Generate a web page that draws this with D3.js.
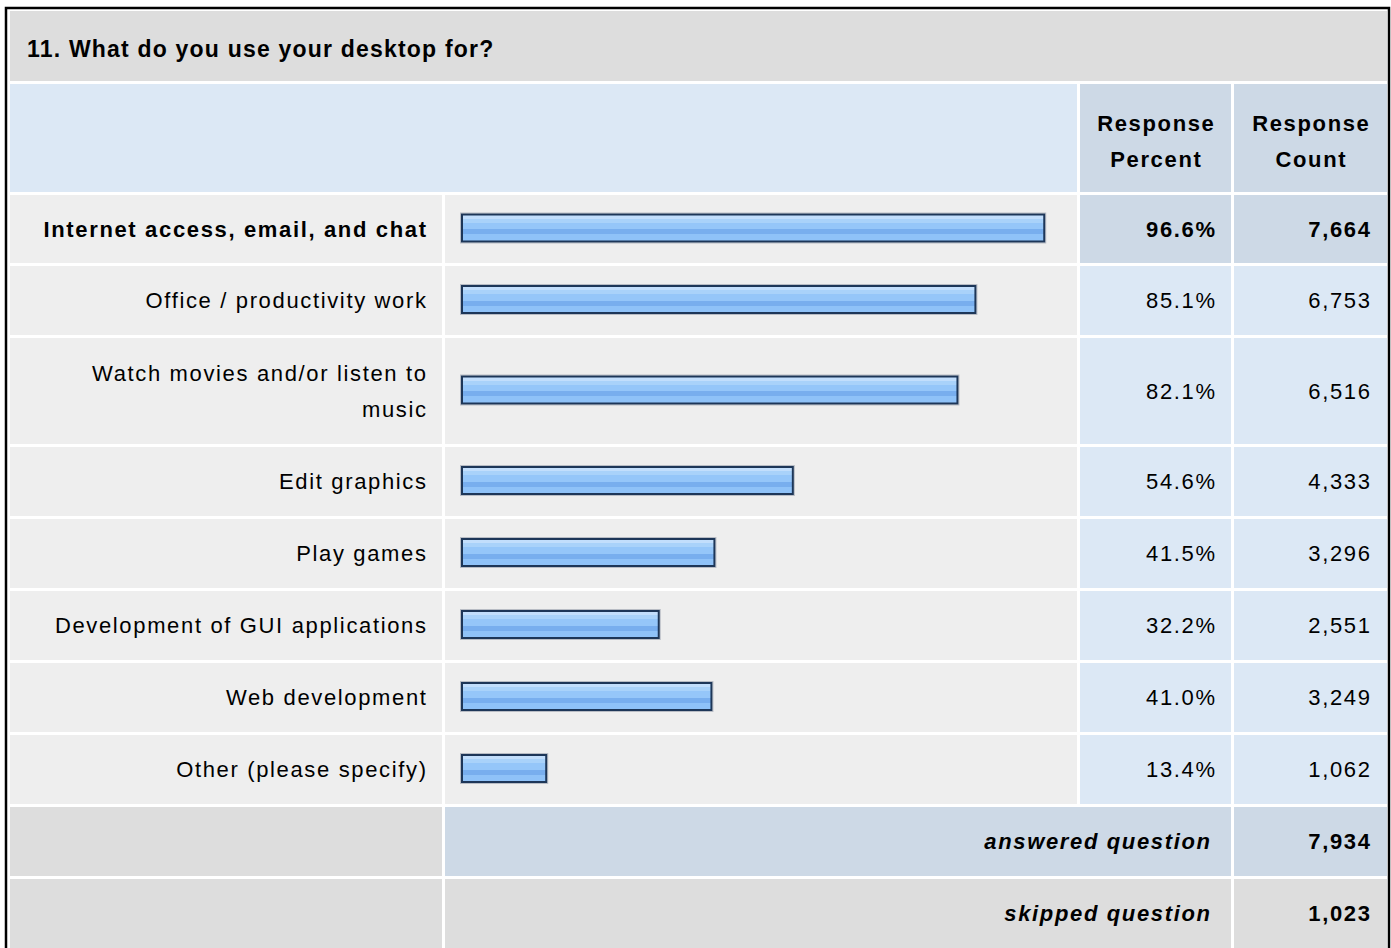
<!DOCTYPE html>
<html>
  <head>
    <meta charset="UTF-8">
    <title></title>
    <style>
    body { margin: 0; background: #fff; }
    svg { display: block; }
    text { font-family: "Liberation Sans", Arial, sans-serif; fill: #000; }
    </style>
  </head>
  <body>
    <svg id="chart" width="1391" height="948"></svg>
  </body>
  <script src="https://cdn.jsdelivr.net/npm/d3@7/dist/d3.min.js"></script>
  <script>
  // data
  var question = "11. What do you use your desktop for?";
  var headers = [["Response", "Percent"], ["Response", "Count"]];
  var categories = [
    ["Internet access, email, and chat"],
    ["Office / productivity work"],
    ["Watch movies and/or listen to", "music"],
    ["Edit graphics"],
    ["Play games"],
    ["Development of GUI applications"],
    ["Web development"],
    ["Other (please specify)"]
  ];
  var percents = [96.6, 85.1, 82.1, 54.6, 41.5, 32.2, 41.0, 13.4];
  var counts = [7664, 6753, 6516, 4333, 3296, 2551, 3249, 1062];
  var summaryLabels = ["answered question", "skipped question"];
  var summaryCounts = [7934, 1023];

  var width = 1391, height = 948;
  var fontSize = 22, lineH = 36, spacing = 1.65;

  // column edges
  var colLabel = [10, 442], colBar = [445, 1077], colPct = [1080, 1231], colCnt = [1234, 1387];
  var fmtCount = d3.format(",");
  var fmtPct = function(v) { return v.toFixed(1) + "%"; };

  var x = d3.scaleLinear().domain([0, 100]).range([6, 604.6]);

  var svg = d3.select("svg#chart");

  var defs = svg.append("defs");
  var grad = defs.append("linearGradient")
    .attr("id", "barGrad")
    .attr("x1", 0).attr("y1", 0).attr("x2", 0).attr("y2", 1);
  [[0, "#c2defc"], [0.16, "#c2defc"], [0.16, "#a9d2fa"], [0.3, "#a9d2fa"], [0.3, "#95c6f9"],
   [0.55, "#95c6f9"], [0.55, "#78aeee"], [0.74, "#78aeee"], [0.74, "#8fc2f8"], [1, "#8fc2f8"]]
    .forEach(function(s) {
      grad.append("stop").attr("offset", s[0]).attr("stop-color", s[1]);
    });

  // outer frame
  svg.append("rect")
    .attr("x", 6).attr("y", 8)
    .attr("width", 1383).attr("height", 960)
    .attr("fill", "#fff")
    .attr("stroke", "#000")
    .attr("stroke-width", 2.5);

  function cell(x0, x1, y0, y1, fill) {
    svg.append("rect")
      .attr("x", x0).attr("y", y0)
      .attr("width", x1 - x0).attr("height", y1 - y0)
      .attr("fill", fill);
  }

  function lines(arr, tx, cy, anchor, weight, style) {
    // letter-spacing leaves a trailing gap, push it back out
    var shift = anchor === "end" ? spacing : anchor === "middle" ? spacing / 2 : 0;
    var t = svg.append("text")
      .attr("text-anchor", anchor)
      .style("font-size", fontSize + "px")
      .style("letter-spacing", spacing + "px")
      .style("font-weight", weight || "normal")
      .style("font-style", style || "normal");
    var first = cy - (arr.length - 1) * lineH / 2 + fontSize * 0.36;
    arr.forEach(function(s, i) {
      t.append("tspan").attr("x", tx + shift).attr("y", first + i * lineH).text(s);
    });
    return t;
  }

  // title row
  cell(10, 1387, 11, 81, "#dddddd");
  svg.append("text")
    .attr("x", 27).attr("y", 57)
    .style("font-size", "23px")
    .style("letter-spacing", "1.2px")
    .style("font-weight", "bold")
    .text(question);

  // header row
  cell(10, 1077, 84, 192, "#dce8f5");
  cell(colPct[0], colPct[1], 84, 192, "#cdd9e6");
  cell(colCnt[0], colCnt[1], 84, 192, "#cdd9e6");
  lines(headers[0], (colPct[0] + colPct[1]) / 2, 141, "middle", "bold");
  lines(headers[1], (colCnt[0] + colCnt[1]) / 2, 141, "middle", "bold");

  // data rows
  var y = 195;
  categories.forEach(function(lab, i) {
    var h = lab.length > 1 ? 106 : (i === 0 ? 68 : 69);
    var y0 = y, y1 = y + h, cy = y + h / 2;
    var strong = i === 0;
    cell(colLabel[0], colLabel[1], y0, y1, "#eeeeee");
    cell(colBar[0], colBar[1], y0, y1, "#eeeeee");
    cell(colPct[0], colPct[1], y0, y1, strong ? "#cdd9e6" : "#dce8f5");
    cell(colCnt[0], colCnt[1], y0, y1, strong ? "#cdd9e6" : "#dce8f5");

    lines(lab, 426, cy, "end", strong ? "bold" : "normal");

    // bar
    var bx = 461, bh = 29, by = cy - bh / 2 - 1;
    svg.append("rect")
      .attr("x", bx - 0.5).attr("y", by - 0.5)
      .attr("width", x(percents[i]) + 1).attr("height", bh + 1)
      .attr("fill", "none")
      .attr("stroke", "#b8bcc4").attr("stroke-width", 1);
    svg.append("rect")
      .attr("x", bx + 1).attr("y", by + 1)
      .attr("width", x(percents[i]) - 2).attr("height", bh - 2)
      .attr("fill", "url(#barGrad)")
      .attr("stroke", "#1d3658").attr("stroke-width", 2);

    lines([fmtPct(percents[i])], 1215, cy, "end", strong ? "bold" : "normal");
    lines([fmtCount(counts[i])], 1370, cy, "end", strong ? "bold" : "normal");
    y = y1 + 3;
  });

  // summary rows
  summaryLabels.forEach(function(lab, i) {
    var y0 = y, y1 = y + 69, cy = y + 34.5;
    var fill = i === 0 ? "#cdd9e6" : "#dddddd";
    cell(colLabel[0], colLabel[1], y0, y1, "#dddddd");
    cell(colBar[0], colPct[1], y0, y1, fill);
    cell(colCnt[0], colCnt[1], y0, y1, fill);
    lines([lab], 1210, cy, "end", "bold", "italic");
    lines([fmtCount(summaryCounts[i])], 1370, cy, "end", "bold");
    y = y1 + 3;
  });
  </script>
</html>
